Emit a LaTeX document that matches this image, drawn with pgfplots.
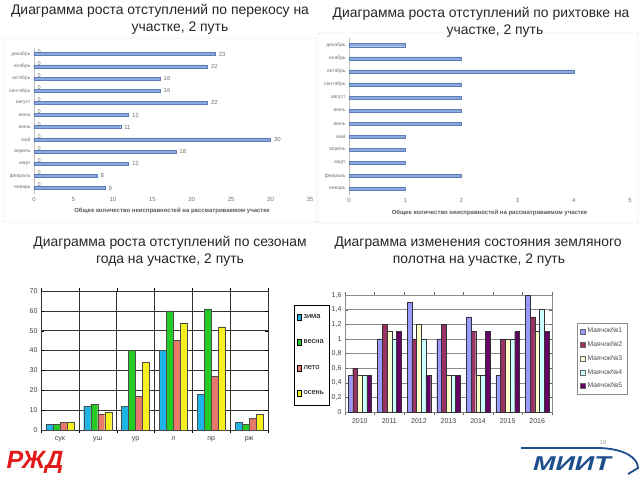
\documentclass[border=0pt]{standalone}
\usepackage{fontspec}
\setmainfont{Liberation Sans}
\usepackage{pgfplots}
\pgfplotsset{compat=1.18}
\definecolor{barA}{HTML}{8DA9DB}
\definecolor{barAd}{HTML}{5B7DB8}
\definecolor{zima}{HTML}{1EB4E6}
\definecolor{vesna}{HTML}{22CC22}
\definecolor{leto}{HTML}{E8786A}
\definecolor{osen}{HTML}{F5F01E}
\definecolor{m1}{HTML}{9999FF}
\definecolor{m2}{HTML}{993366}
\definecolor{m3}{HTML}{FFFFCC}
\definecolor{m4}{HTML}{CCFFFF}
\definecolor{m5}{HTML}{660066}
\definecolor{rzd}{HTML}{E21A1A}
\definecolor{miit}{HTML}{1E4E8C}
\newcommand{\tfont}{\fontsize{13.9}{15}\selectfont}
\begin{document}
\begin{tikzpicture}
\path[use as bounding box, fill=white] (0,0) rectangle (640pt,-480pt);
% panels
\draw[black!15, fill=white, rounded corners=1pt] (4pt,-38pt) rectangle (316pt,-222pt);
\draw[black!15, fill=white, rounded corners=1pt] (318pt,-33pt) rectangle (638pt,-223pt);
% titles
\node[font=\tfont, text=black!85] at (160pt,-11pt) {Диаграмма роста отступлений по перекосу на};
\node[font=\tfont, text=black!85] at (180pt,-28pt) {участке, 2 путь};
\node[font=\tfont, text=black!85] at (481pt,-14pt) {Диаграмма роста отступлений по рихтовке на};
\node[font=\tfont, text=black!85] at (495pt,-31pt) {участке, 2 путь};
\node[font=\tfont, text=black!85] at (170pt,-243pt) {Диаграмма роста отступлений по сезонам};
\node[font=\tfont, text=black!85] at (170pt,-260pt) {года на участке, 2 путь};
\node[font=\tfont, text=black!85] at (478pt,-243pt) {Диаграмма изменения состояния земляного};
\node[font=\tfont, text=black!85] at (479pt,-260pt) {полотна на участке, 2 путь};

% chart 1
\begin{axis}[at={(34pt,-47.5pt)}, anchor=north west, scale only axis,
  width=276pt, height=146pt,
  xbar, bar width=3pt, xmin=0, xmax=35, ymin=0.55, ymax=12.55,
  ytick={1,...,12},
  yticklabels={январь,февраль,март,апрель,май,июнь,июль,август,сентябрь,октябрь,ноябрь,декабрь},
  xtick={0,5,...,35},
  axis lines*=left, x axis line style={draw=none}, y axis line style={draw=black!25},
  major tick length=0pt,
  tick label style={text=black!55},
  yticklabel style={font=\fontsize{5}{6}\selectfont},
  xticklabel style={font=\fontsize{6}{7}\selectfont},
  xlabel={Общее количество неисправностей на рассматриваемом участке},
  xlabel style={font=\bfseries\fontsize{6}{7}\selectfont, text=black!65},
  /pgf/number format/assume math mode=true, clip=false]
\addplot[fill=barA, draw=barAd, line width=0.4pt, bar shift=0pt,
  nodes near coords, every node near coord/.append style={font=\fontsize{6}{7}\selectfont, text=black!55}]
  coordinates {(9,1) (8,2) (12,3) (18,4) (30,5) (11,6) (12,7) (22,8) (16,9) (16,10) (22,11) (23,12)};
\addplot[draw=none, fill=none, bar width=0pt, bar shift=3pt,
  nodes near coords, every node near coord/.append style={font=\fontsize{5.5}{6}\selectfont, text=black!55}]
  coordinates {(0,1) (0,2) (0,3) (0,4) (0,5) (0,6) (0,7) (0,8) (0,9) (0,10) (0,11) (0,12)};
\end{axis}

% chart 2
\begin{axis}[at={(349pt,-38pt)}, anchor=north west, scale only axis,
  width=281pt, height=157pt,
  xbar, bar width=3pt, xmin=0, xmax=5, ymin=0.55, ymax=12.55,
  ytick={1,...,12},
  yticklabels={январь,февраль,март,апрель,май,июнь,июль,август,сентябрь,октябрь,ноябрь,декабрь},
  xtick={0,1,...,5},
  axis lines*=left, x axis line style={draw=none}, y axis line style={draw=black!25},
  major tick length=0pt,
  tick label style={text=black!55},
  yticklabel style={font=\fontsize{5}{6}\selectfont},
  xticklabel style={font=\fontsize{6}{7}\selectfont},
  xlabel={Общее количество неисправностей на рассматриваемом участке},
  xlabel style={font=\bfseries\fontsize{6}{7}\selectfont, text=black!65},
  /pgf/number format/assume math mode=true, clip=false]
\addplot[fill=barA, draw=barAd, line width=0.4pt, bar shift=0pt]
  coordinates {(1,1) (2,2) (1,3) (1,4) (1,5) (2,6) (2,7) (2,8) (2,9) (4,10) (2,11) (1,12)};
\end{axis}

% chart 3
\begin{axis}[at={(41pt,-291pt)}, anchor=north west, scale only axis,
  width=227pt, height=139pt,
  ybar=0pt, bar width=7pt, xmin=0, xmax=6, ymin=0, ymax=70,
  ytick={0,10,...,70},
  xtick={0.5,1.5,...,5.5}, xticklabels={сук,уш,ур,л,пр,рж},
  minor xtick={0,1,...,6}, xminorgrids, ymajorgrids,
  grid style={black!80, line width=0.5pt},
  minor grid style={black!80, line width=0.5pt},
  axis line style={black!80},
  major x tick style={draw=none},
  tick style={black}, major tick length=3pt, minor tick length=3pt,
  tick label style={font=\fontsize{7}{8}\selectfont, text=black!75},
  every axis plot post/.append style={legend image code/.code={\draw[##1, draw=black] (0pt,-3pt) rectangle (4pt,3pt);}},
  legend style={at={(1.115,0.899)}, anchor=north west, draw=black, fill=white,
    font=\fontsize{7.5}{8.5}\selectfont, row sep=16pt, inner ysep=7pt, inner xsep=3pt,
    /tikz/every even column/.append style={column sep=1pt}},
  legend cell align=left,
  /pgf/number format/assume math mode=true]
\addplot[fill=zima, draw=black!70, line width=0.3pt] coordinates {(0.5,3) (1.5,12) (2.5,12) (3.5,40) (4.5,18) (5.5,4)};
\addplot[fill=vesna, draw=black!70, line width=0.3pt] coordinates {(0.5,3) (1.5,13) (2.5,40) (3.5,60) (4.5,61) (5.5,3)};
\addplot[fill=leto, draw=black!70, line width=0.3pt] coordinates {(0.5,4) (1.5,8) (2.5,17) (3.5,45) (4.5,27) (5.5,6)};
\addplot[fill=osen, draw=black!70, line width=0.3pt] coordinates {(0.5,4) (1.5,9) (2.5,34) (3.5,54) (4.5,52) (5.5,8)};
\legend{зима,весна,лето,осень}
\end{axis}

% chart 4
\begin{axis}[at={(345pt,-295pt)}, anchor=north west, scale only axis,
  width=207pt, height=117pt,
  ybar=0pt, bar width=4.7pt, xmin=-0.5, xmax=6.5, ymin=0, ymax=1.6,
  ytick={0,0.2,0.4,0.6,0.8,1,1.2,1.4,1.6},
  yticklabels={0,{0,2},{0,4},{0,6},{0,8},1,{1,2},{1,4},{1,6}},
  xtick={0,...,6}, xticklabels={2010,2011,2012,2013,2014,2015,2016},
  minor xtick={-0.5,0.5,...,6.5},
  ymajorgrids, grid style={black!45, line width=0.4pt},
  axis line style={black!45},
  major x tick style={draw=none},
  tick style={black!60}, major tick length=3pt, minor tick length=3pt,
  tick label style={font=\fontsize{7}{8}\selectfont, text=black!75},
  every axis plot post/.append style={legend image code/.code={\draw[##1, draw=black!60] (0pt,-2.5pt) rectangle (5pt,2.5pt);}},
  legend style={at={(1.121,0.761)}, anchor=north west, draw=black!45, fill=white,
    font=\fontsize{6.8}{7.5}\selectfont, text=black!70, row sep=3.5pt, inner sep=3pt},
  legend cell align=left,
  /pgf/number format/assume math mode=true]
\addplot[fill=m1, draw=black!80, line width=0.3pt] coordinates {(0,0.5) (1,1.0) (2,1.5) (3,1.0) (4,1.3) (5,0.5) (6,1.6)};
\addplot[fill=m2, draw=black!80, line width=0.3pt] coordinates {(0,0.6) (1,1.2) (2,1.0) (3,1.2) (4,1.1) (5,1.0) (6,1.3)};
\addplot[fill=m3, draw=black!80, line width=0.3pt] coordinates {(0,0.5) (1,1.1) (2,1.2) (3,0.5) (4,0.5) (5,1.0) (6,1.1)};
\addplot[fill=m4, draw=black!80, line width=0.3pt] coordinates {(0,0.5) (1,1.0) (2,1.0) (3,0.5) (4,0.5) (5,1.0) (6,1.4)};
\addplot[fill=m5, draw=black!80, line width=0.3pt] coordinates {(0,0.5) (1,1.1) (2,0.5) (3,0.5) (4,1.1) (5,1.1) (6,1.1)};
\legend{Маячок№1,Маячок№2,Маячок№3,Маячок№4,Маячок№5}
\end{axis}

% logos
\node[font=\bfseries\itshape\fontsize{25}{27}\selectfont, text=rzd] at (35pt,-462pt) {РЖД};
\draw[miit, line width=1.8pt] (521pt,-448pt) -- (600pt,-448pt) .. controls (625pt,-449pt) and (638pt,-458pt) .. (638pt,-468pt) -- (628pt,-474pt);
\node[font=\bfseries\itshape\fontsize{20}{22}\selectfont, text=miit, xscale=1.35, inner sep=0pt] at (572pt,-464pt) {МИИТ};
\node[font=\fontsize{6}{7}\selectfont, text=black!35, inner sep=0.5pt] at (603pt,-442pt) {16};
\end{tikzpicture}
\end{document}
